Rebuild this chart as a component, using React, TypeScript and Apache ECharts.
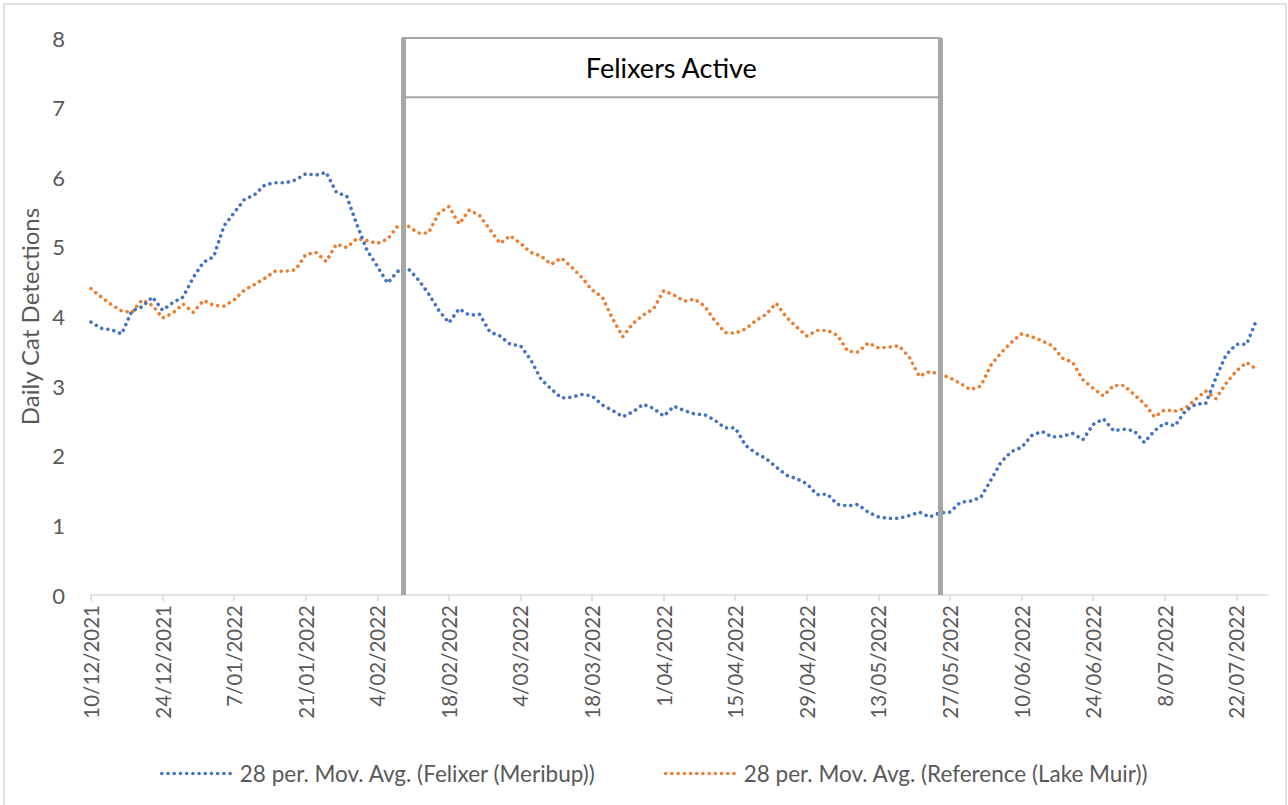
import React, { useEffect, useRef } from "react";
import * as echarts from "echarts";

// Day offsets are counted from the first date on the axis
const START_DATE = "2021-12-10";
const AXIS_MAX_DAY = 230;
const TICK_STEP_DAYS = 14;

// Sample days (every second day) at which the moving averages were read
const sampleDays: number[] = [
  0, 2, 4, 6, 8, 10, 12, 14, 16, 18, 20, 22, 24, 26, 28, 30, 32, 34, 36, 38,
  40, 42, 44, 46, 48, 50, 52, 54, 56, 58, 60, 62, 64, 66, 68, 70, 72, 74, 76, 78,
  80, 82, 84, 86, 88, 90, 92, 94, 96, 98, 100, 102, 104, 106, 108, 110, 112, 114, 116, 118,
  120, 122, 124, 126, 128, 130, 132, 134, 136, 138, 140, 142, 144, 146, 148, 150, 152, 154, 156, 158,
  160, 162, 164, 166, 168, 170, 172, 174, 176, 178, 180, 182, 184, 186, 188, 190, 192, 194, 196, 198,
  200, 202, 204, 206, 208, 210, 212, 214, 216, 218, 220, 222, 224, 226, 228,
];

const felixerMeribup: number[] = [
  3.92, 3.83, 3.81, 3.75, 4.08, 4.14, 4.28, 4.09, 4.2, 4.28, 4.56, 4.78, 4.86, 5.3, 5.49, 5.68, 5.75, 5.89, 5.92, 5.92,
  5.96, 6.05, 6.03, 6.07, 5.78, 5.73, 5.32, 4.95, 4.72, 4.48, 4.65, 4.69, 4.53, 4.33, 4.09, 3.91, 4.11, 4.02, 4.03, 3.78,
  3.72, 3.6, 3.58, 3.38, 3.1, 2.96, 2.83, 2.84, 2.88, 2.86, 2.73, 2.65, 2.56, 2.63, 2.74, 2.68, 2.57, 2.71, 2.65, 2.6,
  2.59, 2.51, 2.4, 2.4, 2.15, 2.04, 1.96, 1.84, 1.72, 1.67, 1.6, 1.44, 1.45, 1.3, 1.28, 1.3, 1.19, 1.12, 1.1, 1.1,
  1.14, 1.19, 1.12, 1.18, 1.19, 1.33, 1.35, 1.4, 1.65, 1.91, 2.06, 2.12, 2.29, 2.35, 2.27, 2.28, 2.32, 2.23, 2.45, 2.53,
  2.36, 2.38, 2.36, 2.19, 2.36, 2.47, 2.43, 2.64, 2.74, 2.75, 3.12, 3.45, 3.6, 3.6, 3.96,
];

const referenceLakeMuir: number[] = [
  4.4, 4.28, 4.17, 4.08, 4.06, 4.24, 4.16, 3.98, 4.05, 4.18, 4.06, 4.23, 4.16, 4.15, 4.24, 4.38, 4.46, 4.55, 4.65, 4.65,
  4.67, 4.89, 4.92, 4.79, 5.04, 4.99, 5.12, 5.09, 5.05, 5.11, 5.3, 5.3, 5.2, 5.2, 5.48, 5.58, 5.33, 5.53, 5.45, 5.25,
  5.05, 5.16, 5.05, 4.92, 4.87, 4.75, 4.84, 4.71, 4.56, 4.38, 4.28, 3.97, 3.71, 3.9, 4.02, 4.11, 4.37, 4.31, 4.22, 4.25,
  4.15, 3.94, 3.77, 3.76, 3.82, 3.94, 4.03, 4.19, 3.99, 3.85, 3.72, 3.8, 3.8, 3.73, 3.5, 3.49, 3.62, 3.55, 3.56, 3.58,
  3.42, 3.14, 3.21, 3.17, 3.12, 3.04, 2.95, 3.0, 3.3, 3.48, 3.63, 3.75, 3.71, 3.65, 3.58, 3.4, 3.34, 3.09, 2.97, 2.86,
  3.01, 3.01, 2.88, 2.75, 2.56, 2.66, 2.64, 2.68, 2.81, 2.93, 2.82, 3.04, 3.22, 3.34, 3.24,
];

const seriesNames = [
  "28 per. Mov. Avg. (Felixer (Meribup))",
  "28 per. Mov. Avg. (Reference (Lake Muir))",
];

const felixerPeriodDays: number[] = [61, 166]; // 9/02/2022 – 25/05/2022
const felixerBoxLow = 7.15;
const felixerLabel = "Felixers Active";

const Y_MIN = 0;
const Y_MAX = 8;
const Y_INTERVAL = 1;

const FONT = "Lato, 'Open Sans', sans-serif";

function dayToLabel(d: number): string {
  const base = new Date(START_DATE + "T00:00:00");
  const dt = new Date(base.getFullYear(), base.getMonth(), base.getDate() + Math.round(d));
  const mm = String(dt.getMonth() + 1).padStart(2, "0");
  return `${dt.getDate()}/${mm}/${dt.getFullYear()}`;
}

export default function App() {
  const ref = useRef<HTMLDivElement>(null);
  useEffect(() => {
    if (!ref.current) return;
    const chart = echarts.init(ref.current, null, { renderer: "svg" });
    const dotted = (color: string) => ({
      color,
      width: 3.6,
      type: [0.01, 6.2] as any,
      cap: "round" as any,
    });
    chart.setOption({
      animation: false,
      backgroundColor: "#ffffff",
      textStyle: { fontFamily: FONT },
      graphic: [
        {
          type: "rect",
          shape: { x: 4, y: 4, width: 1282, height: 810 },
          style: { fill: "none", stroke: "#D9D9D9", lineWidth: 1.5 },
          silent: true,
          z: -10,
        },
      ],
      grid: { left: 91, right: 21, top: 38, bottom: 210, containLabel: false },
      legend: {
        left: 155,
        top: 757,
        itemWidth: 70,
        itemHeight: 14,
        itemGap: 68,
        itemStyle: { opacity: 0 },
        lineStyle: { width: 3.6, type: [0.01, 6.2] as any, cap: "round" as any },
        textStyle: { fontFamily: FONT, fontSize: 22.5, color: "#595959", padding: [0, 0, 0, 3] },
        data: seriesNames,
      },
      xAxis: {
        type: "value",
        min: 0,
        max: AXIS_MAX_DAY,
        interval: TICK_STEP_DAYS,
        splitLine: { show: false },
        axisLine: { show: true, lineStyle: { color: "#D9D9D9", width: 1.5 } },
        axisTick: { show: true, length: 6, lineStyle: { color: "#D9D9D9", width: 1.5 } },
        axisLabel: {
          rotate: 90,
          margin: 10,
          fontSize: 20.5,
          color: "#595959",
          fontFamily: FONT,
          showMaxLabel: false,
          formatter: (v: number) => dayToLabel(v),
        },
      },
      yAxis: {
        type: "value",
        min: Y_MIN,
        max: Y_MAX,
        interval: Y_INTERVAL,
        name: "Daily Cat Detections",
        nameLocation: "middle",
        nameRotate: 90,
        nameGap: 49,
        nameTextStyle: { fontSize: 24, color: "#595959", fontFamily: FONT },
        splitLine: { show: false },
        axisLine: { show: false },
        axisTick: { show: false },
        axisLabel: { fontSize: 22, color: "#595959", margin: 26, fontFamily: FONT },
      },
      series: [
        {
          name: seriesNames[0],
          type: "line",
          data: sampleDays.map((d, i) => [d, felixerMeribup[i]]),
          showSymbol: false,
          symbol: "none",
          smooth: false,
          lineStyle: dotted("#4472C4"),
          itemStyle: { color: "#4472C4" },
          z: 3,
          markLine: {
            silent: true,
            symbol: "none",
            label: { show: false },
            lineStyle: { color: "#A6A6A6", width: 5, type: "solid" },
            data: felixerPeriodDays.map((d) => ({ xAxis: d })),
            z: 5,
          },
          markArea: {
            silent: true,
            itemStyle: { color: "#ffffff", borderColor: "#A6A6A6", borderWidth: 2 },
            label: {
              show: true,
              position: "inside",
              formatter: felixerLabel,
              color: "#000000",
              fontSize: 27,
              fontFamily: FONT,
            },
            data: [
              [
                { xAxis: felixerPeriodDays[0], yAxis: felixerBoxLow },
                { xAxis: felixerPeriodDays[1], yAxis: Y_MAX },
              ],
            ],
          },
        },
        {
          name: seriesNames[1],
          type: "line",
          data: sampleDays.map((d, i) => [d, referenceLakeMuir[i]]),
          showSymbol: false,
          symbol: "none",
          smooth: false,
          lineStyle: dotted("#ED7D31"),
          itemStyle: { color: "#ED7D31" },
          z: 2,
        },
      ],
    });
    return () => chart.dispose();
  }, []);
  return (
    <div
      ref={ref}
      style={{ position: "fixed", left: 0, top: 0, width: 1288, height: 805 }}
    />
  );
}
